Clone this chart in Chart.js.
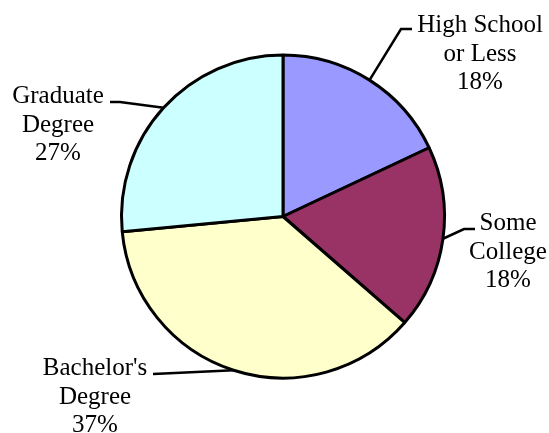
<!DOCTYPE html>
<html>
<head>
<meta charset="utf-8">
<script src="https://cdn.jsdelivr.net/npm/chart.js@4/dist/chart.umd.min.js"></script>
<style>
  html, body { margin: 0; padding: 0; background: #fff; }
  #wrap { width: 549px; height: 433px; }
</style>
</head>
<body>
<div id="wrap"><canvas id="cht-edu" width="549" height="433"></canvas></div>
<script>
var labels = [["High School", "or Less"], ["Some", "College"], ["Bachelor's", "Degree"], ["Graduate", "Degree"]];
var values = [18, 18.4, 37.1, 26.5];
var colours = ['#9999FF', '#993366', '#FFFFCC', '#CCFFFF'];

// where each label sits: elbow of the leader, end of its short flat part, text centre x, first baseline y
var labelPos = [
    { elbow: [401, 29], end: [412, 29], tx: 480, ty: 32 },
    { elbow: [464, 229], end: [475, 229], tx: 508, ty: 230 },
    { elbow: [164, 373.5], end: [153, 374], tx: 95, ty: 375 },
    { elbow: [120, 102], end: [110, 102], tx: 58, ty: 103 }
];

var total = values.reduce(function (a, b) { return a + b; }, 0);

var leaderLabels = {
    id: 'leaderLabels',
    afterDraw: function (chart) {
        var ctx = chart.ctx;
        var arcs = chart.getDatasetMeta(0).data;
        ctx.save();
        ctx.strokeStyle = '#000';
        ctx.lineWidth = 2.5;
        ctx.fillStyle = '#000';
        ctx.font = '25px "Liberation Serif", "Times New Roman", serif';
        ctx.textAlign = 'center';
        ctx.textBaseline = 'alphabetic';
        arcs.forEach(function (arc, i) {
            var p = arc.getProps(['x', 'y', 'startAngle', 'endAngle', 'outerRadius']);
            var mid = (p.startAngle + p.endAngle) / 2;
            var ax = p.x + Math.cos(mid) * p.outerRadius;
            var ay = p.y + Math.sin(mid) * p.outerRadius;
            var lp = labelPos[i];
            ctx.beginPath();
            ctx.moveTo(ax, ay);
            ctx.lineTo(lp.elbow[0], lp.elbow[1]);
            ctx.lineTo(lp.end[0], lp.end[1]);
            ctx.stroke();
            var lines = labels[i].concat([Math.round(values[i] / total * 100) + '%']);
            lines.forEach(function (t, j) {
                ctx.fillText(t, lp.tx, lp.ty + j * 28.5);
            });
        });
        ctx.restore();
    }
};

new Chart(document.getElementById('cht-edu'), {
    type: 'pie',
    data: {
        labels: labels.map(function (l) { return l.join(' '); }),
        datasets: [{
            data: values,
            backgroundColor: colours,
            borderColor: '#000',
            borderWidth: 3
        }]
    },
    options: {
        responsive: false,
        animation: false,
        radius: 161.5,
        layout: { padding: { left: 17, right: 0, top: 0, bottom: 0 } },
        plugins: {
            legend: { display: false },
            tooltip: { enabled: false }
        }
    },
    plugins: [leaderLabels]
});
</script>
</body>
</html>
